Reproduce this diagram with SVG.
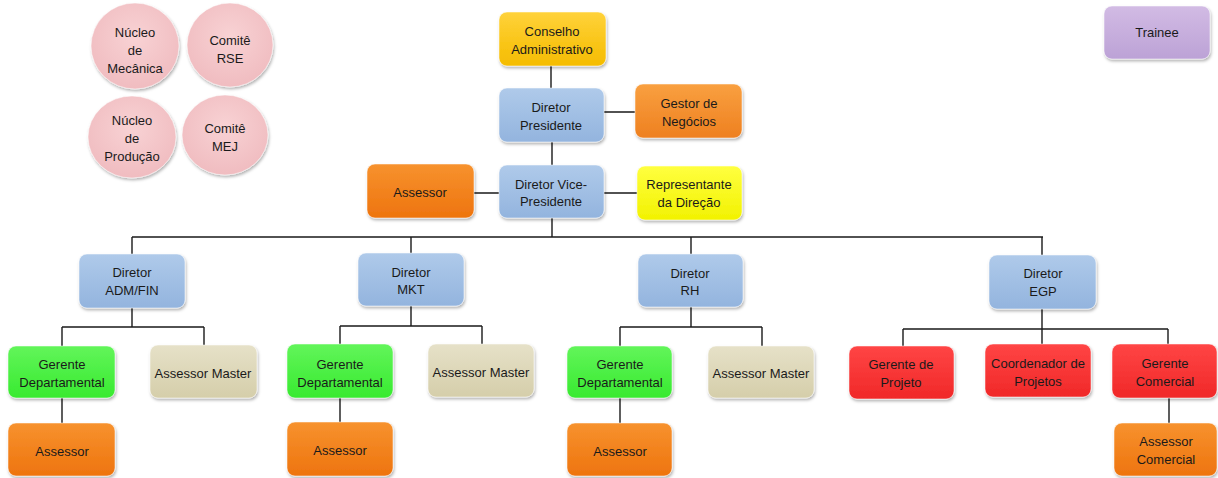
<svg xmlns="http://www.w3.org/2000/svg" width="1218" height="478" viewBox="0 0 1218 478">
<defs>
<filter id="sh" x="-10%" y="-10%" width="130%" height="140%">
<feDropShadow dx="1" dy="2" stdDeviation="1.5" flood-color="#000" flood-opacity="0.3"/>
</filter>
<linearGradient id="gGold" x1="0" y1="0" x2="0" y2="1"><stop offset="0" stop-color="#FFD23A"/><stop offset="1" stop-color="#F5BC00"/></linearGradient>
<linearGradient id="gBlue" x1="0" y1="0" x2="0" y2="1"><stop offset="0" stop-color="#AFCAEA"/><stop offset="1" stop-color="#93B4DE"/></linearGradient>
<linearGradient id="gOrange" x1="0" y1="0" x2="0" y2="1"><stop offset="0" stop-color="#F7922E"/><stop offset="1" stop-color="#EE740E"/></linearGradient>
<linearGradient id="gOrange2" x1="0" y1="0" x2="0" y2="1"><stop offset="0" stop-color="#F9A040"/><stop offset="1" stop-color="#EE8020"/></linearGradient>
<linearGradient id="gYellow" x1="0" y1="0" x2="0" y2="1"><stop offset="0" stop-color="#FFFF40"/><stop offset="1" stop-color="#F2F200"/></linearGradient>
<linearGradient id="gGreen" x1="0" y1="0" x2="0" y2="1"><stop offset="0" stop-color="#62F55A"/><stop offset="1" stop-color="#38EA30"/></linearGradient>
<linearGradient id="gTan" x1="0" y1="0" x2="0" y2="1"><stop offset="0" stop-color="#E6E1C8"/><stop offset="1" stop-color="#D5CEAA"/></linearGradient>
<linearGradient id="gRed" x1="0" y1="0" x2="0" y2="1"><stop offset="0" stop-color="#FF4545"/><stop offset="1" stop-color="#F02828"/></linearGradient>
<linearGradient id="gPurple" x1="0" y1="0" x2="0" y2="1"><stop offset="0" stop-color="#D2BBE4"/><stop offset="1" stop-color="#BCA2D6"/></linearGradient>
<radialGradient id="gPink" cx="0.5" cy="0.4" r="0.6"><stop offset="0" stop-color="#F8D2D4"/><stop offset="1" stop-color="#F0BCC0"/></radialGradient>
<style>
.b{stroke:#ffffff;stroke-opacity:0.5;stroke-width:1;filter:url(#sh)}
.t{font-family:"Liberation Sans",Arial,sans-serif;font-size:13px;fill:#1a1a1a;text-anchor:middle}
.c{fill:none;stroke:#1a1a1a;stroke-width:1.4}
</style>
</defs>

<g id="connectors">
<path class="c" d="M551 66V88M604 112H635M552 142V165M474 193H499M604 193H637M552 218V237M132 237H1043M132 237V254M411 237V253M691 237V254M1042 237V255"/>
<path class="c" d="M132 308V327M62 327H204M62 327V346M204 327V345M62 398V423"/>
<path class="c" d="M411 306V326M340 326H482M340 326V344M482 326V344M340 398V422"/>
<path class="c" d="M691 307V327M620 327H762M620 327V346M762 327V346M620 398V423"/>
<path class="c" d="M1042 309V329M903 329H1168M903 329V346M1042 329V344M1168 329V344M1169 398V423"/>
</g>

<g id="nucleo-mecanica"><ellipse class="b" cx="135" cy="46" rx="44" ry="43" fill="url(#gPink)"/>
<text class="t" x="135" y="37">Núcleo</text><text class="t" x="135" y="55">de</text><text class="t" x="135" y="73">Mecânica</text></g>
<g id="comite-rse"><ellipse class="b" cx="230" cy="45" rx="43" ry="42" fill="url(#gPink)"/>
<text class="t" x="230" y="45">Comitê</text><text class="t" x="230" y="63">RSE</text></g>
<g id="nucleo-producao"><ellipse class="b" cx="132" cy="137" rx="44" ry="41" fill="url(#gPink)"/>
<text class="t" x="132" y="125">Núcleo</text><text class="t" x="132" y="143">de</text><text class="t" x="132" y="161">Produção</text></g>
<g id="comite-mej"><ellipse class="b" cx="225" cy="135" rx="43" ry="40" fill="url(#gPink)"/>
<text class="t" x="225" y="133">Comitê</text><text class="t" x="225" y="151">MEJ</text></g>

<g id="trainee"><rect class="b" x="1104" y="6" width="106" height="53" rx="8" fill="url(#gPurple)"/>
<text class="t" x="1157" y="37">Trainee</text></g>

<g id="conselho"><rect class="b" x="499" y="12" width="107" height="54" rx="8" fill="url(#gGold)"/>
<text class="t" x="552" y="36">Conselho</text><text class="t" x="552" y="54">Administrativo</text></g>
<g id="presidente"><rect class="b" x="499" y="88" width="105" height="54" rx="8" fill="url(#gBlue)"/>
<text class="t" x="551" y="112">Diretor</text><text class="t" x="551" y="130">Presidente</text></g>
<g id="gestor"><rect class="b" x="635" y="84" width="107" height="54" rx="8" fill="url(#gOrange2)"/>
<text class="t" x="689" y="108">Gestor de</text><text class="t" x="689" y="126">Negócios</text></g>
<g id="assessor-vp"><rect class="b" x="367" y="164" width="107" height="54" rx="8" fill="url(#gOrange)"/>
<text class="t" x="420" y="197">Assessor</text></g>
<g id="vice"><rect class="b" x="499" y="165" width="105" height="53" rx="8" fill="url(#gBlue)"/>
<text class="t" x="551" y="189">Diretor Vice-</text><text class="t" x="551" y="206">Presidente</text></g>
<g id="representante"><rect class="b" x="637" y="166" width="105" height="54" rx="8" fill="url(#gYellow)"/>
<text class="t" x="689" y="189">Representante</text><text class="t" x="689" y="207">da Direção</text></g>

<g id="dir-admfin"><rect class="b" x="79" y="254" width="106" height="54" rx="8" fill="url(#gBlue)"/>
<text class="t" x="132" y="277">Diretor</text><text class="t" x="132" y="295">ADM/FIN</text></g>
<g id="dir-mkt"><rect class="b" x="358" y="253" width="106" height="53" rx="8" fill="url(#gBlue)"/>
<text class="t" x="411" y="277">Diretor</text><text class="t" x="411" y="294">MKT</text></g>
<g id="dir-rh"><rect class="b" x="638" y="254" width="105" height="53" rx="8" fill="url(#gBlue)"/>
<text class="t" x="690" y="278">Diretor</text><text class="t" x="690" y="295">RH</text></g>
<g id="dir-egp"><rect class="b" x="989" y="255" width="107" height="54" rx="8" fill="url(#gBlue)"/>
<text class="t" x="1043" y="278">Diretor</text><text class="t" x="1043" y="296">EGP</text></g>

<g id="ger-admfin"><rect class="b" x="8" y="346" width="107" height="52" rx="8" fill="url(#gGreen)"/>
<text class="t" x="62" y="369">Gerente</text><text class="t" x="62" y="387">Departamental</text></g>
<g id="am-admfin"><rect class="b" x="150" y="345" width="107" height="53" rx="8" fill="url(#gTan)"/>
<text class="t" x="203" y="378">Assessor Master</text></g>
<g id="as-admfin"><rect class="b" x="8" y="423" width="107" height="53" rx="8" fill="url(#gOrange)"/>
<text class="t" x="62" y="456">Assessor</text></g>

<g id="ger-mkt"><rect class="b" x="287" y="344" width="106" height="54" rx="8" fill="url(#gGreen)"/>
<text class="t" x="340" y="369">Gerente</text><text class="t" x="340" y="387">Departamental</text></g>
<g id="am-mkt"><rect class="b" x="428" y="344" width="106" height="53" rx="8" fill="url(#gTan)"/>
<text class="t" x="481" y="377">Assessor Master</text></g>
<g id="as-mkt"><rect class="b" x="287" y="422" width="106" height="54" rx="8" fill="url(#gOrange)"/>
<text class="t" x="340" y="455">Assessor</text></g>

<g id="ger-rh"><rect class="b" x="567" y="346" width="105" height="52" rx="8" fill="url(#gGreen)"/>
<text class="t" x="620" y="369">Gerente</text><text class="t" x="620" y="387">Departamental</text></g>
<g id="am-rh"><rect class="b" x="708" y="346" width="106" height="52" rx="8" fill="url(#gTan)"/>
<text class="t" x="761" y="378">Assessor Master</text></g>
<g id="as-rh"><rect class="b" x="567" y="423" width="105" height="53" rx="8" fill="url(#gOrange)"/>
<text class="t" x="620" y="456">Assessor</text></g>

<g id="ger-projeto"><rect class="b" x="849" y="346" width="105" height="53" rx="8" fill="url(#gRed)"/>
<text class="t" x="901" y="369">Gerente de</text><text class="t" x="901" y="387">Projeto</text></g>
<g id="coord-projetos"><rect class="b" x="985" y="344" width="106" height="53" rx="8" fill="url(#gRed)"/>
<text class="t" x="1038" y="368">Coordenador de</text><text class="t" x="1038" y="386">Projetos</text></g>
<g id="ger-comercial"><rect class="b" x="1112" y="344" width="105" height="54" rx="8" fill="url(#gRed)"/>
<text class="t" x="1165" y="368">Gerente</text><text class="t" x="1165" y="386">Comercial</text></g>
<g id="as-comercial"><rect class="b" x="1114" y="423" width="103" height="53" rx="8" fill="url(#gOrange)"/>
<text class="t" x="1166" y="446">Assessor</text><text class="t" x="1166" y="464">Comercial</text></g>
</svg>
